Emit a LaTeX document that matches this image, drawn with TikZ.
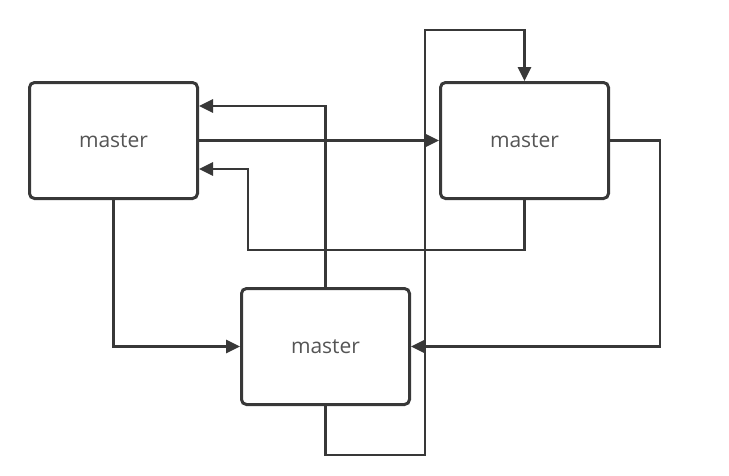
\documentclass[tikz,border=0pt]{standalone}
\usepackage{fontspec}
\setmainfont{Open Sans}
\usetikzlibrary{arrows.meta,calc}
\definecolor{linec}{HTML}{383838}
\definecolor{textc}{HTML}{555555}
\tikzset{
  box/.style={draw=linec, line width=3pt, rounded corners=5pt, fill=white,
    minimum width=168pt, minimum height=116pt, inner sep=0pt,
    font=\fontsize{21}{24}\selectfont, text=textc},
  conn/.style={draw=linec, line width=2.8pt,
    -{Triangle[length=14pt,width=13pt]}},
}
\begin{document}
\begin{tikzpicture}[x=1pt,y=-1pt]
\useasboundingbox[fill=white] (0,0) rectangle (729,475);
\node[box] (left) at (113.5,140.5) {master};
\node[box] (right) at (524.5,140.5) {master};
\node[box] (bot) at (325.5,346.5) {master};
\coordinate (c3a) at (248,250);
\coordinate (c5a) at (660,346.5);
\coordinate (c6a) at (425,455);
\coordinate (c6b) at (425,30);
\draw[conn] (bot.north) |- ([yshift=34.5pt]left.east);
\draw[conn] (left.east) -- (right.west);
\draw[conn] (right.south) |- (c3a) |- ([yshift=-28.5pt]left.east);
\draw[conn] (left.south) |- (bot.west);
\draw[conn] (right.east) -| (c5a) -- (bot.east);
\draw[conn] (bot.south) |- (c6a) -- (c6b) -| (right.north);
\end{tikzpicture}
\end{document}
